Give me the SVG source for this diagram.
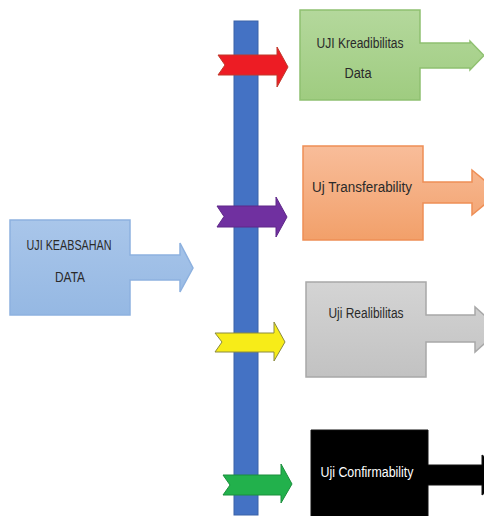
<svg xmlns="http://www.w3.org/2000/svg" width="484" height="516" viewBox="0 0 484 516">
<defs>
<linearGradient id="gBlue" x1="0" y1="0" x2="0" y2="1"><stop offset="0" stop-color="#a9c6ea"/><stop offset="1" stop-color="#95b8e3"/></linearGradient>
<linearGradient id="gGreen" x1="0" y1="0" x2="0" y2="1"><stop offset="0" stop-color="#b4d89c"/><stop offset="1" stop-color="#9fcc80"/></linearGradient>
<linearGradient id="gOrange" x1="0" y1="0" x2="0" y2="1"><stop offset="0" stop-color="#f8bd9a"/><stop offset="1" stop-color="#f2a06a"/></linearGradient>
<linearGradient id="gGray" x1="0" y1="0" x2="0" y2="1"><stop offset="0" stop-color="#d4d4d4"/><stop offset="1" stop-color="#c2c2c2"/></linearGradient>
</defs>
<style>
.lbl{font-family:"Liberation Sans",Arial,sans-serif;font-size:14px;fill:#2a2a2a;text-anchor:middle}
.w{fill:#fff}
.bar{fill:#4472c4;stroke:#3a62a8;stroke-width:1}
</style>
<rect x="0" y="0" width="484" height="516" fill="#fff"/>
<g id="connectors">
<rect class="bar" x="234" y="21" width="24" height="494"/>
<path d="M218,55 H277 V47 L288,67 L277,87 V75 H218 L225,65 Z" fill="#ed1c24" stroke="#c0392b" stroke-width="1"/>
<path d="M217,206 H276 V197 L287,217 L276,237 V227 H217 L224,216.5 Z" fill="#7030a0" stroke="#5e2788" stroke-width="1"/>
<path d="M215,333 H274 V322 L285,342 L274,361 V352 H215 L222,342 Z" fill="#f7ec18" stroke="#8a8a40" stroke-width="1"/>
<path d="M223,475 H281 V464 L292,484 L281,503 V495 H223 L230,485 Z" fill="#22b14c" stroke="#1b8f3c" stroke-width="1"/>
</g>
<g id="node-keabsahan">
<path d="M10,220 H130 V255 H180 V243 L193,268 L180,292 V280 H130 V315 H10 Z" fill="url(#gBlue)" stroke="#8db1df" stroke-width="1.5"/>
<text class="lbl" x="69" y="250" textLength="85" lengthAdjust="spacingAndGlyphs">UJI KEABSAHAN</text>
<text class="lbl" x="70" y="282" textLength="30" lengthAdjust="spacingAndGlyphs">DATA</text>
</g>
<g id="node-kredibilitas">
<path d="M300,10 H420 V43 H470 V41 L484,55.5 L470,70 V68 H420 V100 H300 Z" fill="url(#gGreen)" stroke="#8fc070" stroke-width="1.5"/>
<text class="lbl" x="360" y="48" textLength="87" lengthAdjust="spacingAndGlyphs">UJI Kreadibilitas</text>
<text class="lbl" x="358" y="78" textLength="27" lengthAdjust="spacingAndGlyphs">Data</text>
</g>
<g id="node-transferability">
<path d="M303,146 H423 V182 H472 V170 L499,192.5 L472,215 V203 H423 V240 H303 Z" fill="url(#gOrange)" stroke="#ee8e55" stroke-width="1.5"/>
<text class="lbl" x="362" y="192" textLength="100" lengthAdjust="spacingAndGlyphs">Uj Transferability</text>
</g>
<g id="node-realibilitas">
<path d="M306,282 H426 V315 H475 V307 L500,329.5 L475,352 V342 H426 V377 H306 Z" fill="url(#gGray)" stroke="#a8a8a8" stroke-width="1.5"/>
<text class="lbl" x="366" y="318" textLength="75" lengthAdjust="spacingAndGlyphs">Uji Realibilitas</text>
</g>
<g id="node-confirmability">
<path d="M311,430 H428 V465 H482 V455 L510,475 L482,495 V485 H428 V520 H311 Z" fill="#000" stroke="#111" stroke-width="1"/>
<text class="lbl w" x="367" y="477" textLength="93" lengthAdjust="spacingAndGlyphs">Uji Confirmability</text>
</g>
</svg>
